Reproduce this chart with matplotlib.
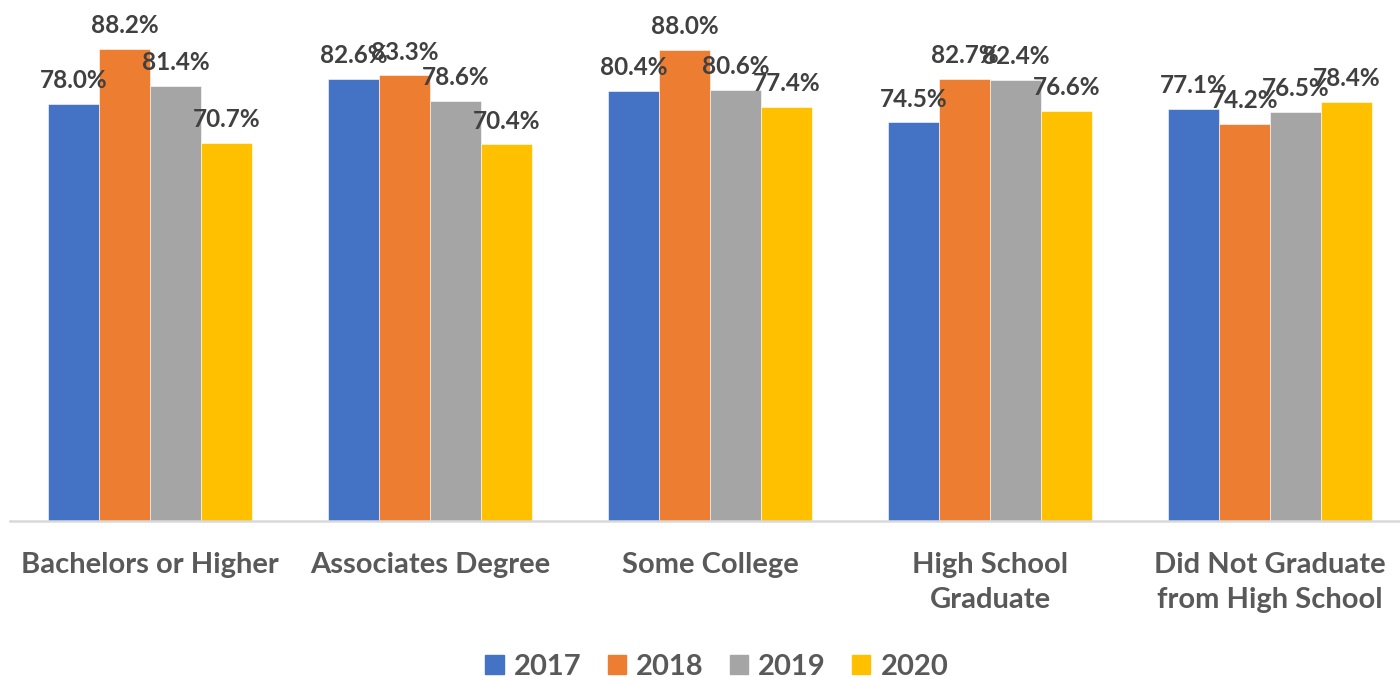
import matplotlib
matplotlib.use("Agg")
import numpy as np
import matplotlib.pyplot as plt
from matplotlib.patches import Patch

categories = ["Bachelors or Higher", "Associates Degree", "Some College",
              "High School\nGraduate", "Did Not Graduate\nfrom High School"]
years = ["2017", "2018", "2019", "2020"]
v2017 = [78.0, 82.6, 80.4, 74.5, 77.1]
v2018 = [88.2, 83.3, 88.0, 82.7, 74.2]
v2019 = [81.4, 78.6, 80.6, 82.4, 76.5]
v2020 = [70.7, 70.4, 77.4, 76.6, 78.4]
series = [v2017, v2018, v2019, v2020]
colors = ["#4472C4", "#ED7D31", "#A5A5A5", "#FFC000"]

plt.rcParams['font.family'] = ['Lato', 'DejaVu Sans']

fig = plt.figure(figsize=(14, 6.77), dpi=100)
ax = fig.add_axes([10 / 1400, (677 - 521) / 677, 1400 / 1400, 521 / 677])

x = np.arange(len(categories))
w = 0.182
for i, (vals, c) in enumerate(zip(series, colors)):
    pos = x + (i - 1.5) * w
    bars = ax.bar(pos, vals, width=w, color=c, edgecolor="white", linewidth=0.4)
    for b, v in zip(bars, vals):
        ax.annotate(f"{v:.1f}%", (b.get_x() + b.get_width() / 2, v),
                    xytext=(0, 8.5), textcoords="offset points",
                    ha="center", va="bottom", fontsize=17.5, fontweight="bold",
                    color="#404040", annotation_clip=False)

ax.set_xlim(-0.5, 4.5)
ax.set_ylim(0, 97.4)
ax.set_yticks([])
for s in ["top", "right", "left"]:
    ax.spines[s].set_visible(False)
ax.spines["bottom"].set_color("#d9d9d9")
ax.spines["bottom"].set_linewidth(1.8)

ax.set_xticks(x)
ax.set_xticklabels(categories, fontsize=21, fontweight="bold", color="#595959",
                   linespacing=1.45)
ax.tick_params(axis="x", length=0, pad=22)

handles = [Patch(color=c, label=y) for c, y in zip(colors, years)]
fig.legend(handles=handles, loc="center", bbox_to_anchor=(0.512, 0.015),
           ncol=4, frameon=False, handlelength=0.62, handleheight=0.62,
           handletextpad=0.35, columnspacing=0.9, borderpad=0.2,
           prop={"size": 21, "weight": "bold"}, labelcolor="#595959")

fig.savefig("out.png", dpi=100)
